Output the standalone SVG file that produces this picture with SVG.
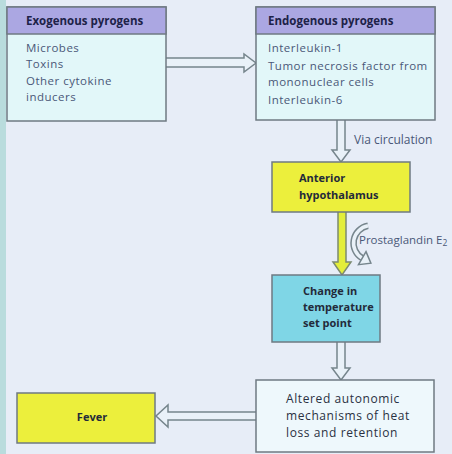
<svg xmlns="http://www.w3.org/2000/svg" width="452" height="454" viewBox="0 0 452 454">
<style>
.bg{fill:#e7edf7}
.strip{fill:#b9dcdd}
.box{stroke:#6f7a82;stroke-width:1.5}
.hdr{fill:#aba7e2}
.body{fill:#e2f7f9}
.yel{fill:#ecef3c}
.teal{fill:#7fd6e6}
.pale{fill:#eef8fc}
.arr{fill:#e9f1f8;stroke:#76858c;stroke-width:1.5;stroke-linejoin:miter}
.arrY{fill:#e3ee3a;stroke:#7c8a70;stroke-width:1.5}
text{font-family:"Open Sans","Noto Sans","Liberation Sans",sans-serif;font-size:11.5px}
.h{font-weight:bold;fill:#1d2248;font-size:11.5px}
.t{fill:#4a5878;letter-spacing:0.5px}
.b{font-weight:bold;fill:#232a3a;font-size:11px}
.d{fill:#2a3142;font-size:12px;letter-spacing:0.6px}
</style>
<rect class="bg" x="0" y="0" width="452" height="454"/>
<rect class="strip" x="0" y="0" width="6" height="454"/>

<g id="connectors">
  <path class="arr" d="M166,58 H244 V54 L256,63 L244,72 V67 H166"/>
  <path class="arr" d="M337,120 V150 H332 L341,162 L350,150 H345 V120"/>
  <path class="arrY" d="M338,212 V262 H333 L342,275 L351,262 H346 V212"/>
  <path class="arr" d="M337,342 V368 H332 L341,380 L350,368 H345 V342"/>
  <path class="arr" d="M256,412 H168 V405 L156,416 L168,427 V420 H256"/>
  <g id="curved-arrow">
    <path d="M368,225.8 A17.5,17.5 0 0 0 362.25,258.16" fill="none" stroke="#76858c" stroke-width="6.5"/>
    <path d="M368,225.8 A17.5,17.5 0 0 0 362.25,258.16" fill="none" stroke="#e9f1f8" stroke-width="3.5"/>
    <path class="arr" d="M366,251.66 L370.9,263.16 L358.5,264.66 Z"/>
  </g>
  <text class="t" x="354" y="144" style="font-size:12px;letter-spacing:0">Via circulation</text>
  <text class="t" x="359" y="244" style="font-size:11.5px;letter-spacing:0">Prostaglandin E<tspan font-size="8.5" dy="2">2</tspan></text>
</g>

<g id="exogenous">
  <rect class="box body" x="7" y="7" width="159" height="114"/>
  <rect class="box hdr" x="7" y="7" width="159" height="27"/>
  <text class="h" x="26" y="25">Exogenous pyrogens</text>
  <text class="t" x="26" y="52">Microbes</text>
  <text class="t" x="26" y="68">Toxins</text>
  <text class="t" x="26" y="85">Other cytokine</text>
  <text class="t" x="26" y="101">inducers</text>
</g>

<g id="endogenous">
  <rect class="box body" x="256" y="7" width="179" height="113"/>
  <rect class="box hdr" x="256" y="7" width="179" height="27"/>
  <text class="h" x="268" y="25">Endogenous pyrogens</text>
  <text class="t" x="268" y="52">Interleukin-1</text>
  <text class="t" x="268" y="70">Tumor necrosis factor from</text>
  <text class="t" x="268" y="86">mononuclear cells</text>
  <text class="t" x="268" y="104">Interleukin-6</text>
</g>

<g id="anterior">
  <rect class="box yel" x="272" y="162" width="138" height="50"/>
  <text class="b" x="299" y="182">Anterior</text>
  <text class="b" x="299" y="199">hypothalamus</text>
</g>

<g id="change">
  <rect class="box teal" x="272" y="275" width="108" height="67"/>
  <text class="b" x="303" y="295">Change in</text>
  <text class="b" x="303" y="311">temperature</text>
  <text class="b" x="303" y="327">set point</text>
</g>

<g id="altered">
  <rect class="box pale" x="256" y="380" width="178" height="72"/>
  <text class="d" x="286" y="403">Altered autonomic</text>
  <text class="d" x="286" y="420">mechanisms of heat</text>
  <text class="d" x="286" y="437">loss and retention</text>
</g>

<g id="fever">
  <rect class="box yel" x="17" y="393" width="138" height="50"/>
  <text class="b" x="92" y="421" text-anchor="middle">Fever</text>
</g>
</svg>
